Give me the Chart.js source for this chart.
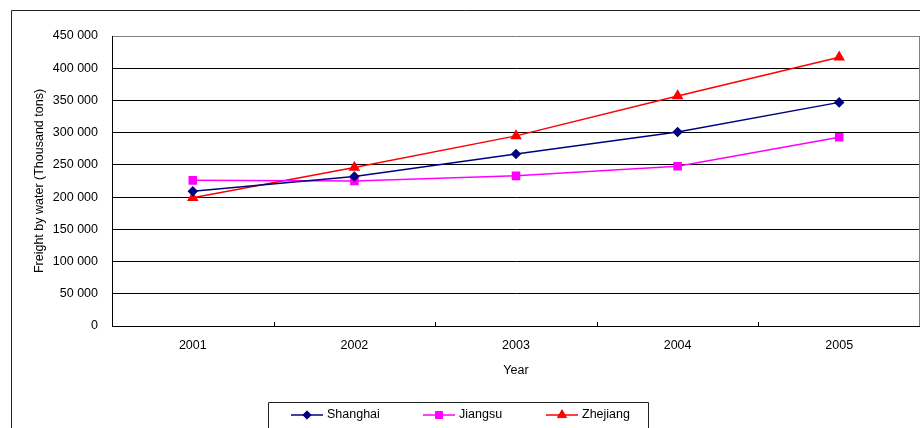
<!DOCTYPE html>
<html>
<head>
<meta charset="utf-8">
<script src="https://cdn.jsdelivr.net/npm/chart.js@4/dist/chart.umd.min.js"></script>
<style>
  html, body { margin: 0; padding: 0; background: #fff; }
  #wrap { width: 920px; height: 428px; position: relative; }
</style>
</head>
<body>
<div id="wrap"><canvas id="c" width="920" height="428"></canvas></div>
<script>
// Freight by water, thousand tons
const years = ['2001', '2002', '2003', '2004', '2005'];
const shanghai = [209000, 232000, 267000, 301000, 347000];
const jiangsu = [226000, 225000, 233000, 248000, 293000];
const zhejiang = [199000, 246000, 295000, 357000, 417000];
const yTickValues = [0, 50000, 100000, 150000, 200000, 250000, 300000, 350000, 400000, 450000];

const FONT = "'Liberation Sans', Arial, sans-serif";

function spaced(v) {
  return String(v).replace(/\B(?=(\d{3})+(?!\d))/g, ' ');
}

// Outer frame, plot border, inward category ticks and the boxed legend
const decorations = {
  id: 'decorations',
  afterDraw(chart) {
    const ctx = chart.ctx;
    const area = chart.chartArea;
    const xs = chart.scales.x;
    ctx.save();

    // outer frame
    ctx.strokeStyle = '#222';
    ctx.lineWidth = 1;
    ctx.beginPath();
    ctx.moveTo(11.5, 428);
    ctx.lineTo(11.5, 10.5);
    ctx.lineTo(920, 10.5);
    ctx.stroke();

    // grey right border of the plot
    ctx.strokeStyle = '#808080';
    ctx.beginPath();
    ctx.moveTo(Math.round(area.right) - 0.5, area.top);
    ctx.lineTo(Math.round(area.right) - 0.5, area.bottom);
    ctx.stroke();

    // tick marks between categories, pointing into the plot
    ctx.strokeStyle = '#000';
    for (let i = 0; i < years.length - 1; i++) {
      const xp = Math.round((xs.getPixelForValue(i) + xs.getPixelForValue(i + 1)) / 2) + 0.5;
      ctx.beginPath();
      ctx.moveTo(xp, area.bottom);
      ctx.lineTo(xp, area.bottom - 4);
      ctx.stroke();
    }

    // legend box
    ctx.strokeStyle = '#222';
    ctx.beginPath();
    ctx.moveTo(268.5, 428);
    ctx.lineTo(268.5, 402.5);
    ctx.lineTo(648.5, 402.5);
    ctx.lineTo(648.5, 428);
    ctx.stroke();

    const entryX = [291, 423, 546];
    const ly = 415;
    ctx.font = '12.5px ' + FONT;
    ctx.textBaseline = 'middle';
    ctx.textAlign = 'left';
    chart.data.datasets.forEach((ds, i) => {
      const x0 = entryX[i];
      ctx.strokeStyle = ds.borderColor;
      ctx.lineWidth = ds.borderWidth;
      ctx.beginPath();
      ctx.moveTo(x0, ly);
      ctx.lineTo(x0 + 32, ly);
      ctx.stroke();
      ctx.fillStyle = ds.pointBackgroundColor;
      ctx.strokeStyle = ds.pointBorderColor;
      ctx.lineWidth = 1;
      Chart.helpers.drawPoint(ctx, {
        pointStyle: ds.pointStyle,
        radius: ds.pointRadius,
        rotation: 0,
        borderWidth: 1
      }, x0 + 16, ly);
      ctx.fillStyle = '#000';
      ctx.fillText(ds.label, x0 + 36, ly);
    });

    ctx.restore();
  }
};

new Chart(document.getElementById('c'), {
  type: 'line',
  data: {
    labels: years,
    datasets: [
      {
        label: 'Shanghai',
        data: shanghai,
        borderColor: '#000080',
        backgroundColor: '#000080',
        pointBackgroundColor: '#000080',
        pointBorderColor: '#000080',
        borderWidth: 1.5,
        pointStyle: 'rectRot',
        pointRadius: 4.2,
        tension: 0
      },
      {
        label: 'Jiangsu',
        data: jiangsu,
        borderColor: '#FF00FF',
        backgroundColor: '#FF00FF',
        pointBackgroundColor: '#FF00FF',
        pointBorderColor: '#FF00FF',
        borderWidth: 1.5,
        pointStyle: 'rect',
        pointRadius: 5,
        tension: 0
      },
      {
        label: 'Zhejiang',
        data: zhejiang,
        borderColor: '#FF0000',
        backgroundColor: '#FF0000',
        pointBackgroundColor: '#FF0000',
        pointBorderColor: '#FF0000',
        borderWidth: 1.5,
        pointStyle: 'triangle',
        pointRadius: 5.2,
        tension: 0
      }
    ]
  },
  options: {
    responsive: false,
    animation: false,
    events: [],
    layout: { autoPadding: false, padding: { left: 20, top: 36, right: 0, bottom: 47 } },
    plugins: {
      legend: { display: false },
      tooltip: { enabled: false }
    },
    scales: {
      x: {
        type: 'category',
        offset: true,
        grid: { display: false, drawTicks: false },
        border: { display: true, color: '#000', width: 1 },
        ticks: {
          color: '#000',
          padding: 12,
          font: { family: FONT, size: 12.5 },
          maxRotation: 0
        },
        title: {
          display: true,
          text: 'Year',
          color: '#000',
          font: { family: FONT, size: 12.5 },
          padding: { top: 0, bottom: 3 }
        },
        afterFit(scale) {
          scale.height = 55;
          scale.paddingLeft = 0;
          scale.paddingRight = 0;
        }
      },
      y: {
        min: 0,
        max: 450000,
        afterBuildTicks(scale) {
          scale.ticks = yTickValues.map(v => ({ value: v }));
        },
        grid: {
          drawTicks: false,
          lineWidth: 1,
          color: c => (c.tick && c.tick.value === 450000 ? '#808080' : '#000')
        },
        border: { display: true, color: '#000', width: 1 },
        ticks: {
          color: '#000',
          padding: 14,
          font: { family: FONT, size: 12.5 },
          callback: v => spaced(v)
        },
        title: {
          display: true,
          text: 'Freight by water (Thousand tons)',
          color: '#000',
          font: { family: FONT, size: 12.5 },
          padding: { top: 12, bottom: 0 }
        },
        afterFit(scale) { scale.width = 92; }
      }
    }
  },
  plugins: [decorations]
});
</script>
</body>
</html>
